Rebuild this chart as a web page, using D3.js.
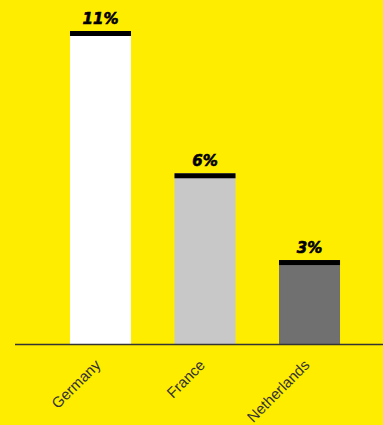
<!DOCTYPE html>
<html>
<head>
<meta charset="utf-8">
<style>
    body { margin: 0; background: #FFED00; }
    .valueLabel {
        font-family: "DejaVu Sans", sans-serif;
        font-weight: bold;
        font-style: italic;
        font-size: 15px;
        fill: #000;
        stroke: #000;
        stroke-width: 0.6px;
        text-anchor: middle;
    }
    .tick text {
        font-family: "Liberation Sans", Arial, sans-serif;
        font-size: 15px;
        fill: #333;
    }
</style>
</head>
<body>
<script src="https://cdn.jsdelivr.net/npm/d3@7"></script>
<script>
    var width = 383;
    var height = 425;

    // data
    var countries = ["Germany", "France", "Netherlands"];
    var shares = [11, 6, 2.95];
    var barColors = ["#FFFFFF", "#C8C8C8", "#707070"];

    var baseline = 344;

    var svg = d3.select("body").append("svg")
            .attr("width", width)
            .attr("height", height);

    svg.append("rect")
            .attr("width", width)
            .attr("height", height)
            .attr("fill", "#FFED00");

    var x = d3.scaleBand()
            .domain(countries)
            .range([26.5, 383.5])
            .paddingInner(0.416)
            .paddingOuter(0.416);

    var y = d3.scaleLinear()
            .domain([0, 11])
            .range([baseline, 31]);

    var bars = svg.selectAll(".bar")
            .data(countries)
            .enter()
            .append("g")
            .attr("class", "bar");

    bars.append("rect")
            .attr("x", function (d) { return x(d); })
            .attr("width", x.bandwidth())
            .attr("y", function (d, i) { return y(shares[i]); })
            .attr("height", function (d, i) { return baseline - y(shares[i]); })
            .attr("fill", function (d, i) { return barColors[i]; });

    // black cap on each bar
    bars.append("rect")
            .attr("x", function (d) { return x(d); })
            .attr("width", x.bandwidth())
            .attr("y", function (d, i) { return y(shares[i]); })
            .attr("height", 5)
            .attr("fill", "#000");

    bars.append("text")
            .attr("class", "valueLabel")
            .attr("x", function (d) { return x(d) + x.bandwidth() / 2; })
            .attr("y", function (d, i) { return y(shares[i]) - 7; })
            .text(function (d, i) { return Math.round(shares[i]) + "%"; });

    var axis = svg.append("g")
            .attr("transform", "translate(0," + baseline + ")")
            .call(d3.axisBottom(x).tickSize(0).tickSizeOuter(0));

    axis.select(".domain")
            .attr("d", "M15,0.5H383")
            .attr("stroke", "#333")
            .attr("stroke-width", 1.5);

    axis.selectAll(".tick text")
            .attr("text-anchor", "end")
            .attr("dy", null)
            .attr("y", null)
            .attr("transform", "translate(1,22) rotate(-45)");
</script>
</body>
</html>
